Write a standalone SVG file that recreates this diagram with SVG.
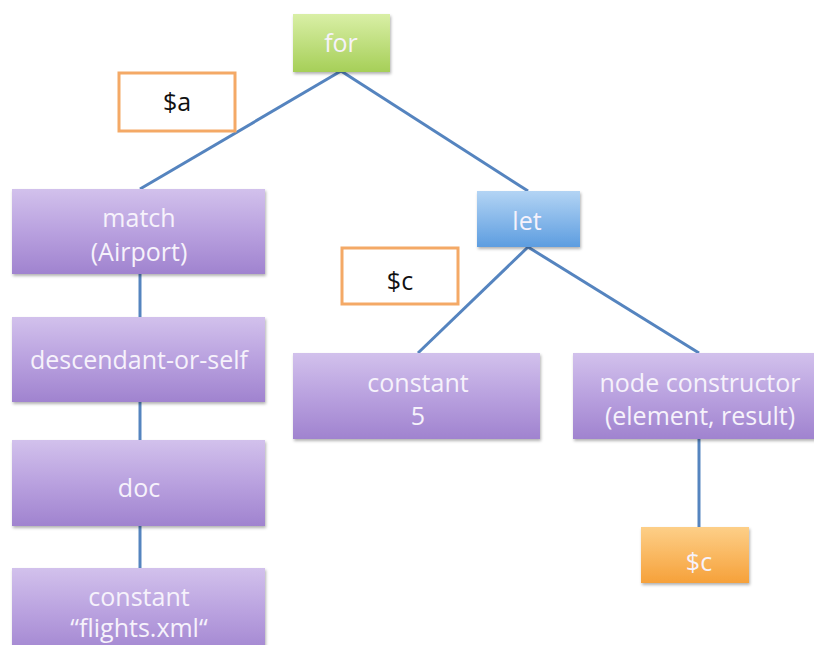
<svg xmlns="http://www.w3.org/2000/svg" width="814" height="645" viewBox="0 0 814 645">
<defs>
<linearGradient id="gPurple" x1="0" y1="0" x2="0" y2="1">
<stop offset="0" stop-color="#d2c1ec"/><stop offset="0.5" stop-color="#b9a1df"/><stop offset="1" stop-color="#a083cf"/>
</linearGradient>
<linearGradient id="gGreen" x1="0" y1="0" x2="0" y2="1">
<stop offset="0" stop-color="#d9efa6"/><stop offset="1" stop-color="#a6cf58"/>
</linearGradient>
<linearGradient id="gBlue" x1="0" y1="0" x2="0" y2="1">
<stop offset="0" stop-color="#b3d4f4"/><stop offset="1" stop-color="#5d9de0"/>
</linearGradient>
<linearGradient id="gOrange" x1="0" y1="0" x2="0" y2="1">
<stop offset="0" stop-color="#fdcf88"/><stop offset="1" stop-color="#f6a13a"/>
</linearGradient>
<filter id="sh" x="-10%" y="-10%" width="120%" height="130%">
<feDropShadow dx="1" dy="2" stdDeviation="1.5" flood-color="#000" flood-opacity="0.3"/>
</filter>
</defs>
<style>
.n{stroke:none;filter:url(#sh)}
.p{fill:url(#gPurple)}
.lbl{font-family:"Open Sans","Liberation Sans",sans-serif;font-size:25px;fill:#f6f2fb;text-anchor:middle}
.var{fill:#fff;stroke:#f4a966;stroke-width:3}
.vt{font-family:"Open Sans","Liberation Sans",sans-serif;font-size:25px;fill:#111;text-anchor:middle}
.c{stroke:#5584bf;stroke-width:3;fill:none}
</style>
<rect width="814" height="645" fill="#fff"/>
<g id="connectors">
<line class="c" x1="341" y1="71" x2="140" y2="189"/>
<line class="c" x1="341" y1="71" x2="528" y2="191"/>
<line class="c" x1="528" y1="247" x2="418" y2="353"/>
<line class="c" x1="528" y1="247" x2="699" y2="353"/>
<line class="c" x1="140" y1="274" x2="140" y2="317"/>
<line class="c" x1="140" y1="402" x2="140" y2="440"/>
<line class="c" x1="140" y1="526" x2="140" y2="568"/>
<line class="c" x1="699" y1="438" x2="699" y2="527"/>
</g>
<g id="for">
<rect class="n" x="293" y="14" width="97" height="58" fill="url(#gGreen)"/>
<text class="lbl" x="341" y="52">for</text>
</g>
<g id="var-a">
<rect class="var" x="119" y="73" width="116" height="58"/>
<text class="vt" x="177" y="111">$a</text>
</g>
<g id="match">
<rect class="n p" x="12" y="189" width="253" height="85"/>
<text class="lbl" x="139" y="227">match</text>
<text class="lbl" x="139" y="261">(Airport)</text>
</g>
<g id="descendant">
<rect class="n p" x="12" y="317" width="253" height="85"/>
<text class="lbl" x="139" y="369">descendant-or-self</text>
</g>
<g id="doc">
<rect class="n p" x="12" y="440" width="253" height="86"/>
<text class="lbl" x="139" y="497">doc</text>
</g>
<g id="constant-flights">
<rect class="n p" x="12" y="568" width="253" height="90"/>
<text class="lbl" x="139" y="606">constant</text>
<text class="lbl" x="139" y="637">“flights.xml“</text>
</g>
<g id="let">
<rect class="n" x="477" y="191" width="103" height="56" fill="url(#gBlue)"/>
<text class="lbl" x="527" y="230">let</text>
</g>
<g id="var-c">
<rect class="var" x="342" y="248" width="116" height="56"/>
<text class="vt" x="400" y="290">$c</text>
</g>
<g id="constant-5">
<rect class="n p" x="293" y="353" width="247" height="86"/>
<text class="lbl" x="418" y="392">constant</text>
<text class="lbl" x="418" y="425">5</text>
</g>
<g id="node-constructor">
<rect class="n p" x="573" y="353" width="260" height="86"/>
<text class="lbl" x="700" y="392">node constructor</text>
<text class="lbl" x="700" y="425">(element, result)</text>
</g>
<g id="c-value">
<rect class="n" x="641" y="527" width="108" height="56" fill="url(#gOrange)"/>
<text class="lbl" x="699" y="571">$c</text>
</g>
</svg>
